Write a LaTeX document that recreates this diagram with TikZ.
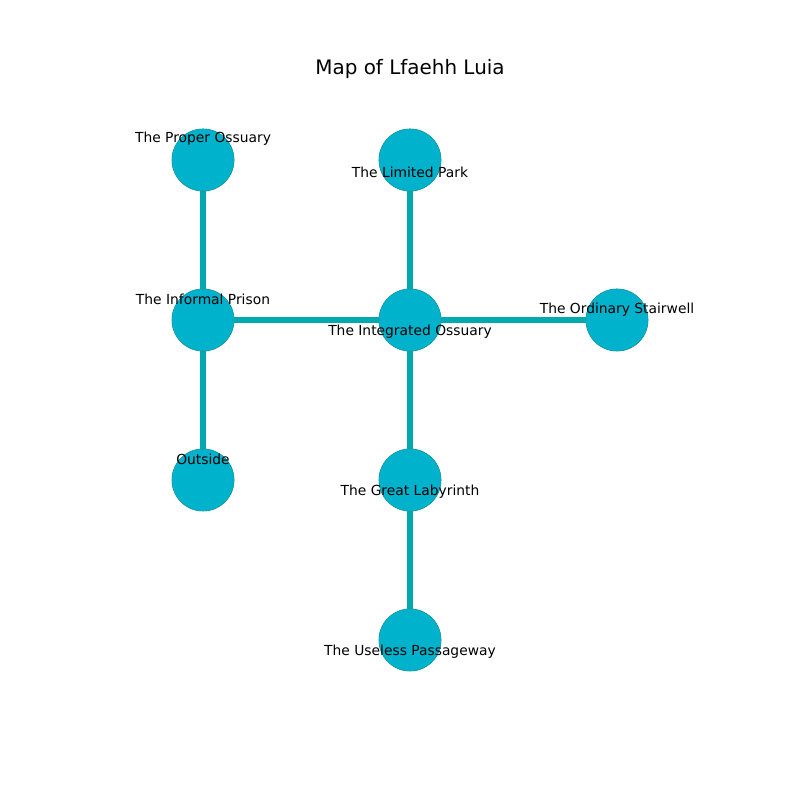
\documentclass[tikz,border=0pt]{standalone}
\usepackage{fontspec}
\setmainfont{DejaVu Sans}
\definecolor{roomfill}{HTML}{00B2CC}
\definecolor{roomedge}{HTML}{1A9AA8}
\definecolor{passage}{HTML}{00A9B0}
\tikzset{
  room/.style={circle, draw=roomedge, line width=0.4pt, fill=roomfill, minimum size=0.62in, inner sep=0pt},
  passway/.style={draw=passage, line width=4pt},
  roomname/.style={font=\fontsize{10}{12}\selectfont, inner sep=0pt}
}
\begin{document}
\begin{tikzpicture}[x=1in,y=1in]
    \useasboundingbox(0,0)rectangle(8,8);
    \node[font=\fontsize{14.4}{17}\selectfont](title)at(4.1,7.31){Map of Lfaehh Luia};

    % rooms
    \node[room](proper)at(2.03,6.4){};
    \node[room](limited)at(4.1,6.4){};
    \node[room](informal)at(2.03,4.8){};
    \node[room](integrated)at(4.1,4.8){};
    \node[room](stairwell)at(6.17,4.8){};
    \node[room](outside)at(2.03,3.2){};
    \node[room](labyrinth)at(4.1,3.2){};
    \node[room](useless)at(4.1,1.6){};

    % passages
    \draw[passway](proper)--(informal);
    \draw[passway](informal)--(integrated);
    \draw[passway](informal)--(outside);
    \draw[passway](limited)--(integrated);
    \draw[passway](integrated)--(stairwell);
    \draw[passway](integrated)--(labyrinth);
    \draw[passway](labyrinth)--(useless);

    % rooms again, on top of the passages
    \foreach \r in {proper,limited,informal,integrated,stairwell,outside,labyrinth,useless}
        \node[room]at(\r){};

    % names
    \node[roomname](properlbl)at([yshift=0.21in]proper.center){The Proper Ossuary};
    \node[roomname](limitedlbl)at([yshift=-0.12in]limited.center){The Limited Park};
    \node[roomname](informallbl)at([yshift=0.21in]informal.center){The Informal Prison};
    \node[roomname](integratedlbl)at([yshift=-0.12in]integrated.center){The Integrated Ossuary};
    \node[roomname](stairwelllbl)at([yshift=0.10in]stairwell.center){The Ordinary Stairwell};
    \node[roomname](outsidelbl)at([yshift=0.21in]outside.center){Outside};
    \node[roomname](labyrinthlbl)at([yshift=-0.12in]labyrinth.center){The Great Labyrinth};
    \node[roomname](uselesslbl)at([yshift=-0.12in]useless.center){The Useless Passageway};
\end{tikzpicture}
\end{document}
